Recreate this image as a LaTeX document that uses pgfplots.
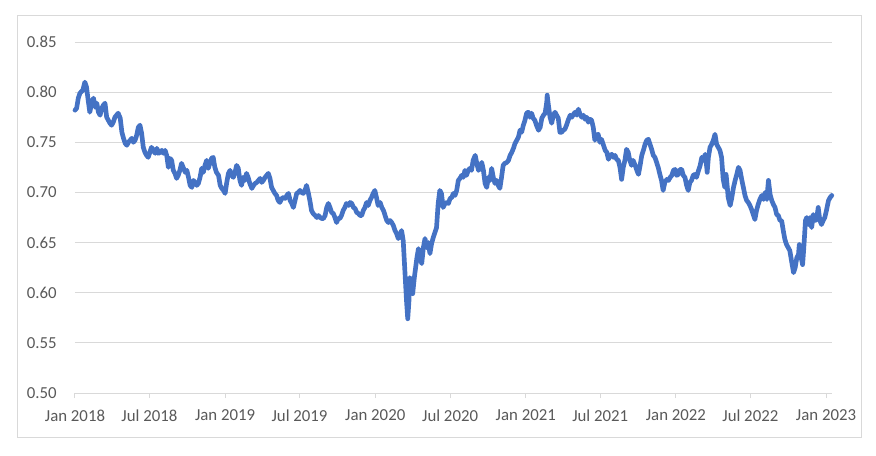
\documentclass[border=0pt]{standalone}
\usepackage{pgfplots}
\pgfplotsset{compat=1.18}
\usepackage{pgfplotstable}
\usepackage{fontspec}
\setmainfont{Carlito}
\definecolor{lineblue}{HTML}{4472C4}
\definecolor{gridgray}{HTML}{D9D9D9}
\definecolor{textgray}{HTML}{595959}
\pgfplotstableread{
day val
0 0.782
4 0.784
8 0.794
12 0.799
19 0.802
24 0.810
28 0.805
32 0.792
36 0.780
41 0.790
45 0.794
49 0.785
53 0.789
57 0.780
61 0.777
65 0.784
69 0.787
73 0.789
77 0.775
81 0.772
85 0.769
89 0.767
93 0.770
97 0.775
101 0.777
105 0.779
110 0.774
114 0.760
118 0.754
122 0.749
126 0.747
130 0.750
134 0.752
138 0.754
142 0.750
146 0.752
150 0.757
154 0.765
158 0.767
162 0.759
166 0.745
170 0.740
174 0.737
178 0.735
182 0.740
186 0.745
190 0.742
195 0.739
199 0.744
203 0.739
207 0.740
211 0.742
215 0.739
219 0.742
223 0.737
227 0.725
231 0.734
235 0.732
239 0.722
243 0.719
247 0.714
251 0.717
255 0.722
259 0.729
263 0.725
268 0.720
272 0.722
276 0.715
280 0.707
284 0.705
288 0.712
292 0.710
296 0.707
300 0.709
304 0.715
308 0.724
312 0.720
316 0.727
320 0.732
324 0.724
328 0.729
332 0.734
336 0.735
340 0.725
344 0.720
349 0.717
353 0.707
357 0.704
361 0.702
365 0.699
369 0.710
373 0.719
377 0.722
381 0.717
385 0.715
389 0.720
393 0.727
397 0.724
401 0.712
405 0.707
409 0.715
413 0.712
417 0.719
421 0.715
425 0.709
430 0.704
434 0.707
438 0.709
442 0.710
446 0.712
450 0.714
454 0.710
458 0.712
462 0.715
466 0.717
470 0.719
474 0.714
478 0.705
482 0.702
486 0.699
490 0.697
494 0.692
498 0.690
503 0.694
507 0.695
511 0.694
515 0.697
519 0.699
523 0.692
527 0.689
531 0.685
535 0.692
539 0.699
543 0.700
547 0.702
551 0.700
555 0.699
559 0.702
563 0.707
567 0.700
571 0.692
575 0.682
579 0.679
584 0.677
588 0.675
592 0.677
596 0.675
600 0.674
604 0.674
608 0.677
612 0.685
616 0.689
620 0.685
624 0.680
628 0.679
632 0.675
636 0.670
640 0.674
644 0.674
648 0.677
652 0.682
656 0.685
660 0.689
665 0.687
669 0.690
673 0.689
677 0.685
681 0.684
685 0.680
689 0.679
693 0.677
697 0.677
701 0.682
705 0.685
709 0.690
713 0.687
717 0.692
721 0.695
725 0.699
729 0.702
733 0.695
737 0.687
742 0.690
746 0.685
750 0.682
754 0.677
758 0.672
762 0.670
766 0.672
770 0.670
774 0.667
778 0.662
782 0.659
786 0.654
790 0.657
794 0.662
798 0.652
802 0.622
806 0.592
809 0.574
812 0.592
814 0.615
818 0.612
821 0.599
825 0.615
831 0.634
835 0.644
839 0.635
843 0.629
847 0.645
851 0.654
855 0.645
859 0.650
863 0.639
867 0.649
871 0.655
875 0.660
879 0.665
883 0.689
887 0.702
891 0.699
895 0.685
900 0.689
904 0.690
908 0.689
912 0.694
916 0.695
920 0.699
924 0.697
928 0.702
932 0.712
936 0.714
940 0.717
944 0.715
948 0.722
952 0.717
956 0.722
960 0.724
964 0.722
968 0.732
973 0.737
977 0.729
981 0.722
985 0.725
989 0.730
993 0.722
997 0.709
1001 0.705
1005 0.715
1009 0.712
1013 0.724
1017 0.715
1021 0.709
1025 0.712
1029 0.707
1033 0.704
1037 0.715
1041 0.727
1045 0.729
1050 0.730
1054 0.732
1058 0.737
1062 0.740
1066 0.744
1070 0.749
1074 0.752
1078 0.755
1082 0.762
1086 0.760
1090 0.767
1094 0.772
1098 0.779
1102 0.780
1106 0.775
1110 0.779
1114 0.774
1118 0.772
1122 0.767
1127 0.762
1131 0.765
1135 0.774
1139 0.777
1143 0.779
1147 0.790
1148 0.797
1151 0.787
1155 0.775
1159 0.769
1163 0.777
1167 0.780
1171 0.777
1175 0.774
1179 0.760
1183 0.760
1187 0.762
1191 0.763
1195 0.767
1199 0.772
1204 0.777
1208 0.775
1212 0.778
1216 0.780
1220 0.777
1224 0.783
1228 0.778
1232 0.775
1236 0.777
1240 0.773
1244 0.775
1248 0.770
1252 0.773
1256 0.772
1260 0.765
1264 0.752
1268 0.757
1272 0.758
1276 0.750
1280 0.753
1285 0.747
1289 0.742
1293 0.740
1297 0.733
1301 0.737
1305 0.738
1309 0.735
1313 0.737
1317 0.733
1321 0.732
1325 0.725
1329 0.713
1333 0.725
1337 0.732
1341 0.743
1345 0.740
1349 0.732
1353 0.727
1357 0.732
1362 0.727
1366 0.722
1370 0.718
1374 0.727
1378 0.737
1382 0.742
1386 0.748
1390 0.752
1394 0.753
1398 0.748
1402 0.743
1406 0.737
1410 0.735
1414 0.730
1418 0.725
1422 0.718
1426 0.712
1430 0.702
1434 0.710
1439 0.713
1443 0.712
1447 0.715
1451 0.717
1455 0.722
1459 0.723
1463 0.717
1467 0.718
1471 0.723
1475 0.723
1479 0.717
1483 0.715
1487 0.707
1491 0.702
1495 0.710
1499 0.712
1503 0.717
1507 0.718
1511 0.715
1516 0.722
1520 0.727
1524 0.735
1528 0.732
1532 0.738
1536 0.725
1537 0.720
1540 0.735
1544 0.745
1548 0.748
1552 0.752
1556 0.758
1560 0.748
1564 0.745
1568 0.742
1572 0.735
1576 0.713
1580 0.705
1583 0.718
1586 0.705
1588 0.695
1593 0.687
1597 0.695
1601 0.705
1605 0.712
1609 0.718
1613 0.725
1617 0.722
1621 0.713
1625 0.705
1629 0.697
1633 0.692
1637 0.690
1641 0.687
1645 0.683
1649 0.678
1653 0.673
1657 0.682
1661 0.688
1665 0.693
1670 0.697
1674 0.693
1678 0.700
1682 0.693
1686 0.712
1690 0.698
1694 0.692
1698 0.688
1702 0.685
1706 0.678
1710 0.677
1714 0.672
1718 0.672
1722 0.662
1726 0.653
1730 0.648
1734 0.645
1738 0.642
1742 0.632
1747 0.620
1751 0.625
1755 0.635
1759 0.638
1761 0.648
1764 0.638
1769 0.628
1772 0.645
1776 0.672
1779 0.675
1783 0.668
1787 0.675
1791 0.665
1795 0.678
1799 0.672
1803 0.673
1807 0.685
1811 0.672
1815 0.668
1819 0.672
1823 0.675
1827 0.682
1832 0.692
1836 0.695
1840 0.697
}\fx
\begin{document}
\begin{tikzpicture}
\path (0,0) rectangle (657pt,341.25pt);
\draw[gridgray, line width=0.75pt] (12.75pt,13.5pt) rectangle (645.75pt,330pt);
\begin{axis}[
  at={(56.25pt,46.5pt)}, anchor=south west,
  scale only axis, width=567.75pt, height=263.25pt,
  xmin=0, xmax=1840.5, ymin=0.5, ymax=0.85,
  axis x line*=bottom, axis y line*=left,
  x axis line style={draw=gridgray, line width=0.75pt},
  y axis line style={draw=none},
  xtick={0,181,365,546,730,912,1096,1277,1461,1642,1826},
  xticklabels={Jan 2018,Jul 2018,Jan 2019,Jul 2019,Jan 2020,Jul 2020,Jan 2021,Jul 2021,Jan 2022,Jul 2022,Jan 2023},
  ytick={0.5,0.55,0.6,0.65,0.7,0.75,0.8,0.85},
  y tick label style={/pgf/number format/fixed, /pgf/number format/fixed zerofill, /pgf/number format/precision=2, /pgf/number format/assume math mode=true, xshift=-6.5pt},
  ymajorgrids, grid style={gridgray, line width=0.75pt},
  tick align=outside,
  major tick length=3.75pt,
  xtick style={draw=gridgray, line width=0.75pt},
  ytick style={draw=none},
  tick label style={font=\fontsize{12.6}{15}\selectfont, text=textgray},
  x tick label style={yshift=-5.5pt},
  clip=false,
]
\addplot[lineblue, line width=3.5pt, line join=round, line cap=round] table[x=day,y=val] {\fx};
\end{axis}
\end{tikzpicture}
\end{document}
